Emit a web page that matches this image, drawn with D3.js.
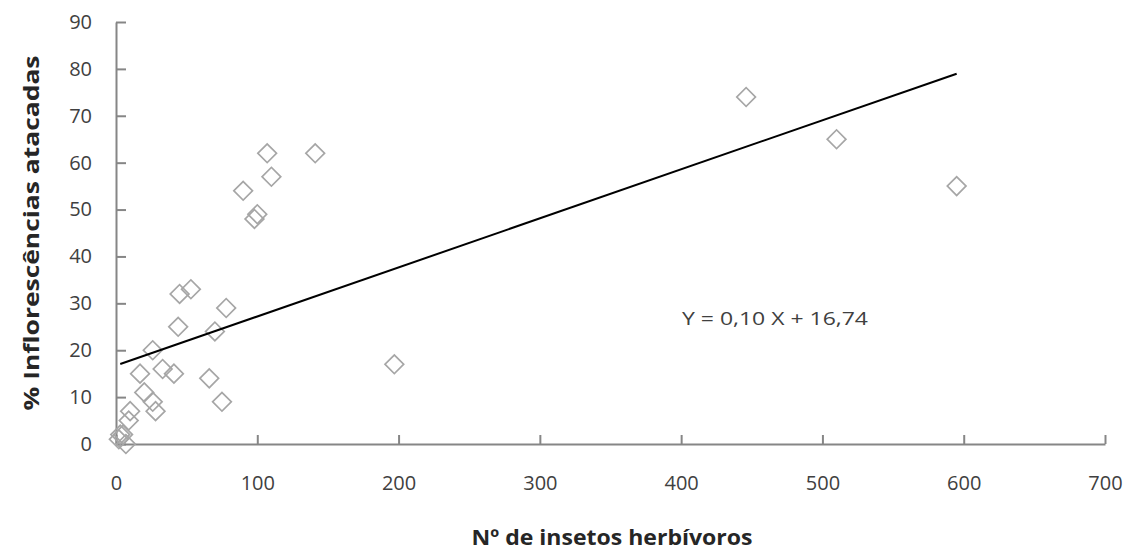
<!DOCTYPE html>
<html><head><meta charset="utf-8">
<script src="https://cdn.jsdelivr.net/npm/d3@7/dist/d3.min.js"></script>
<style>body{margin:0;background:#fff}svg{display:block}</style>
</head><body><svg id="c" width="1135" height="556"></svg>
<script>
const insetos = [2,3,5,7,9,10,17,20,26,26,28,33,41,44,45,53,66,70,75,78,90,98,100,107,110,141,197,446,510,595];
const inflorescencias = [1,2,2,0,5,7,15,11,20,9,7,16,15,25,32,33,14,24,9,29,54,48,49,62,57,62,17,74,65,55];
const xTicks = [0,100,200,300,400,500,600,700];
const yTicks = [0,10,20,30,40,50,60,70,80,90];
const trendSlope = 0.1046, trendIntercept = 16.74;
const trendRange = [3, 595];
const equationLabel = "Y = 0,10 X + 16,74";
const xTitle = "Nº de insetos herbívoros";
const yTitle = "% Inflorescências atacadas";

const svg = d3.select("#c");
const x = d3.scaleLinear().domain([0,700]).range([116,1105]);
const y = d3.scaleLinear().domain([0,90]).range([444,22]);
const axisColor = "#868686";
const font = "'Open Sans', 'Liberation Sans', sans-serif";

// axes
const gx = svg.append("g").attr("transform",`translate(0,${y(0)})`)
  .call(d3.axisBottom(x).tickValues(xTicks).tickSizeInner(-9).tickSizeOuter(0).tickPadding(32));
const gy = svg.append("g").attr("transform",`translate(${x(0)},0)`)
  .call(d3.axisLeft(y).tickValues(yTicks).tickSizeInner(-10).tickSizeOuter(0).tickPadding(24));
[gx,gy].forEach(g=>{
  g.select(".domain").attr("stroke",axisColor).attr("stroke-width",2);
  g.selectAll(".tick line").attr("stroke",axisColor).attr("stroke-width",2);
  g.selectAll(".tick text").attr("fill","#404040").style("font-family",font).style("font-size","20px");
});

// points
svg.append("g").selectAll("path").data(insetos.map((d,i)=>[d,inflorescencias[i]])).join("path")
  .attr("d", d3.symbol(d3.symbolSquare, 175))
  .attr("transform", d=>`translate(${x(d[0])},${y(d[1])}) rotate(45)`)
  .attr("fill","none").attr("stroke","#a6a6a6").attr("stroke-width",1.7);

// trend line
svg.append("line")
  .attr("x1", x(trendRange[0])).attr("y1", y(trendIntercept + trendSlope*trendRange[0]))
  .attr("x2", x(trendRange[1])).attr("y2", y(trendIntercept + trendSlope*trendRange[1]))
  .attr("stroke","#000").attr("stroke-width",2);

// equation
svg.append("text").attr("x",682).attr("y",325).text(equationLabel)
  .attr("fill","#404040").style("font-family",font).style("font-size","19px")
  .attr("textLength",186).attr("lengthAdjust","spacingAndGlyphs");

// titles
svg.append("text").attr("x",612).attr("y",545).attr("text-anchor","middle").text(xTitle)
  .attr("fill","#262626").style("font-family",font).style("font-size","21px").style("font-weight","bold")
  .attr("textLength",281).attr("lengthAdjust","spacingAndGlyphs");
svg.append("text").attr("transform","translate(39,233) rotate(-90)").attr("text-anchor","middle").text(yTitle)
  .attr("fill","#262626").style("font-family",font).style("font-size","21px").style("font-weight","bold")
  .attr("textLength",355).attr("lengthAdjust","spacingAndGlyphs");
</script></body></html>
